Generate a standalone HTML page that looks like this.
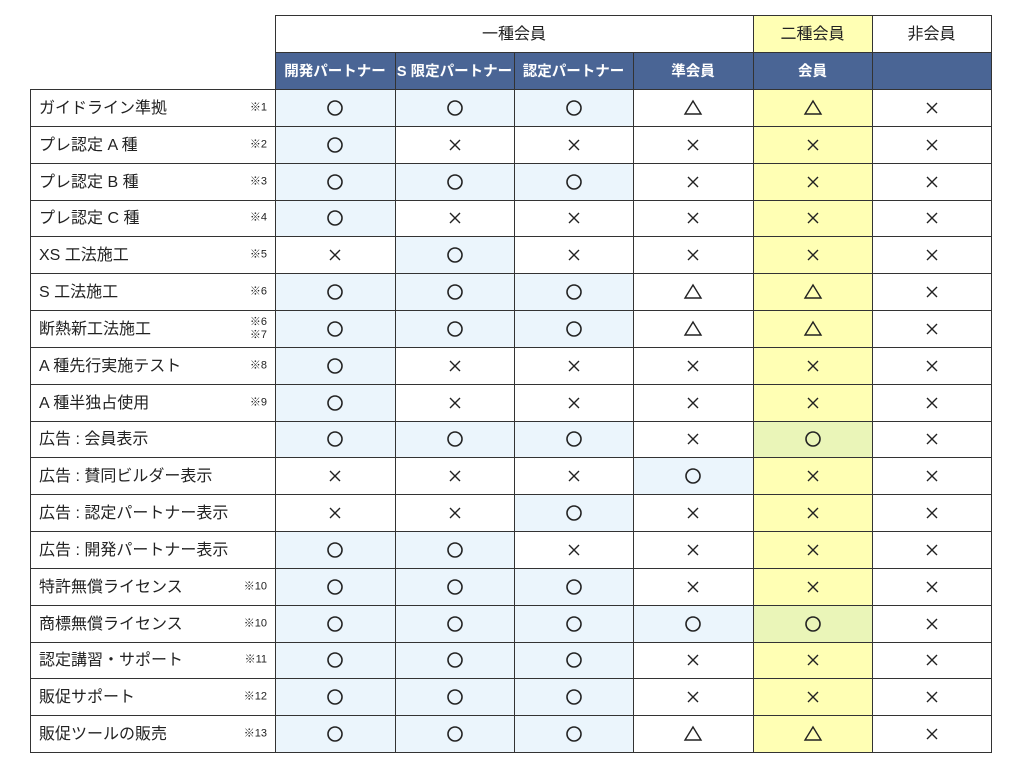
<!DOCTYPE html>
<html><head><meta charset="utf-8"><style>
body{margin:0;width:1024px;height:771px;background:#fff;position:relative;overflow:hidden;font-family:"Liberation Sans","Noto Sans CJK JP",sans-serif;color:#222}
.c{position:absolute;box-sizing:border-box;display:flex;align-items:center;justify-content:center;font-size:16px;line-height:1}
.h{background:#4a6595;color:#fff;font-weight:bold;font-size:14.5px;padding-top:3px}
.t1{padding-top:2px}
.l{justify-content:flex-start;padding-left:9px;font-size:16px;padding-top:2px}
.n{position:absolute;right:8px;font-size:11px;line-height:13px;text-align:right;top:50%;transform:translateY(-50%)}
.line{position:absolute;background:#333}
</style></head><body>
<div id="t"></div>
<script>
var xs=[30,275,395,514,633,753,872,991];
var rows=[
["ガイドライン準拠","※1","OOO△△×"],
["プレ認定 A 種","※2","O×××××"],
["プレ認定 B 種","※3","OOO×××"],
["プレ認定 C 種","※4","O×××××"],
["XS 工法施工","※5","×O××××"],
["S 工法施工","※6","OOO△△×"],
["断熱新工法施工","※6<br>※7","OOO△△×"],
["A 種先行実施テスト","※8","O×××××"],
["A 種半独占使用","※9","O×××××"],
["広告 : 会員表示","","OOO×O×"],
["広告 : 賛同ビルダー表示","","×××O××"],
["広告 : 認定パートナー表示","","××O×××"],
["広告 : 開発パートナー表示","","OO××××"],
["特許無償ライセンス","※10","OOO×××"],
["商標無償ライセンス","※10","OOOOO×"],
["認定講習・サポート","※11","OOO×××"],
["販促サポート","※12","OOO×××"],
["販促ツールの販売","※13","OOO△△×"]];
var SV={
"O":'<svg width="20" height="20"><circle cx="10" cy="10" r="7" fill="none" stroke="#222" stroke-width="1.6"/></svg>',
"×":'<svg width="20" height="20"><path d="M5 5L15 15M15 5L5 15" stroke="#222" stroke-width="1.4"/></svg>',
"△":'<svg width="20" height="20"><path d="M10 3L18 16H2Z" fill="none" stroke="#222" stroke-width="1.4"/></svg>'};
var h="";
function cell(x,y,w,hh,bg,cls,txt){h+='<div class="c '+cls+'" style="left:'+x+'px;top:'+y+'px;width:'+w+'px;height:'+hh+'px;background:'+bg+'">'+txt+'</div>';}
function hl(x1,x2,y){h+='<div class="line" style="left:'+x1+'px;top:'+y+'px;width:'+(x2-x1+1)+'px;height:1px"></div>';}
function vl(x,y1,y2){h+='<div class="line" style="left:'+x+'px;top:'+y1+'px;width:1px;height:'+(y2-y1+1)+'px"></div>';}
cell(275,15,478,37,"#fff","t1","一種会員");
cell(753,15,119,37,"#ffffb4","t1","二種会員");
cell(872,15,119,37,"#fff","t1","非会員");
var hd=["開発パートナー","S 限定パートナー","認定パートナー","準会員","会員",""];
for(var i=0;i<6;i++)cell(xs[i+1],52,xs[i+2]-xs[i+1],37,"#4a6595","h",hd[i]);
var y0=89,rh=(752-89)/18;
for(var r=0;r<18;r++){
 var y=Math.round(y0+r*rh),y2=Math.round(y0+(r+1)*rh);
 cell(30,y,245,y2-y,"#fff","l",rows[r][0]+(rows[r][1]?'<span class="n">'+rows[r][1]+'</span>':''));
 var s=rows[r][2];
 for(var c=0;c<6;c++){
  var ch=s[c],bg="#fff";
  if(c<4&&ch=="O")bg="#ebf5fc";
  if(c==4)bg=ch=="O"?"#eaf5b8":"#ffffb4";
  cell(xs[c+1],y,xs[c+2]-xs[c+1],y2-y,bg,"",SV[ch]);
 }
 hl(30,991,y);
}
hl(30,991,752);hl(275,991,15);hl(275,991,52);
vl(30,89,752);vl(275,15,752);
for(var c=2;c<5;c++)vl(xs[c],52,752);
vl(753,15,752);vl(872,15,752);vl(991,15,752);
document.getElementById("t").innerHTML=h;
</script>
</body></html>
